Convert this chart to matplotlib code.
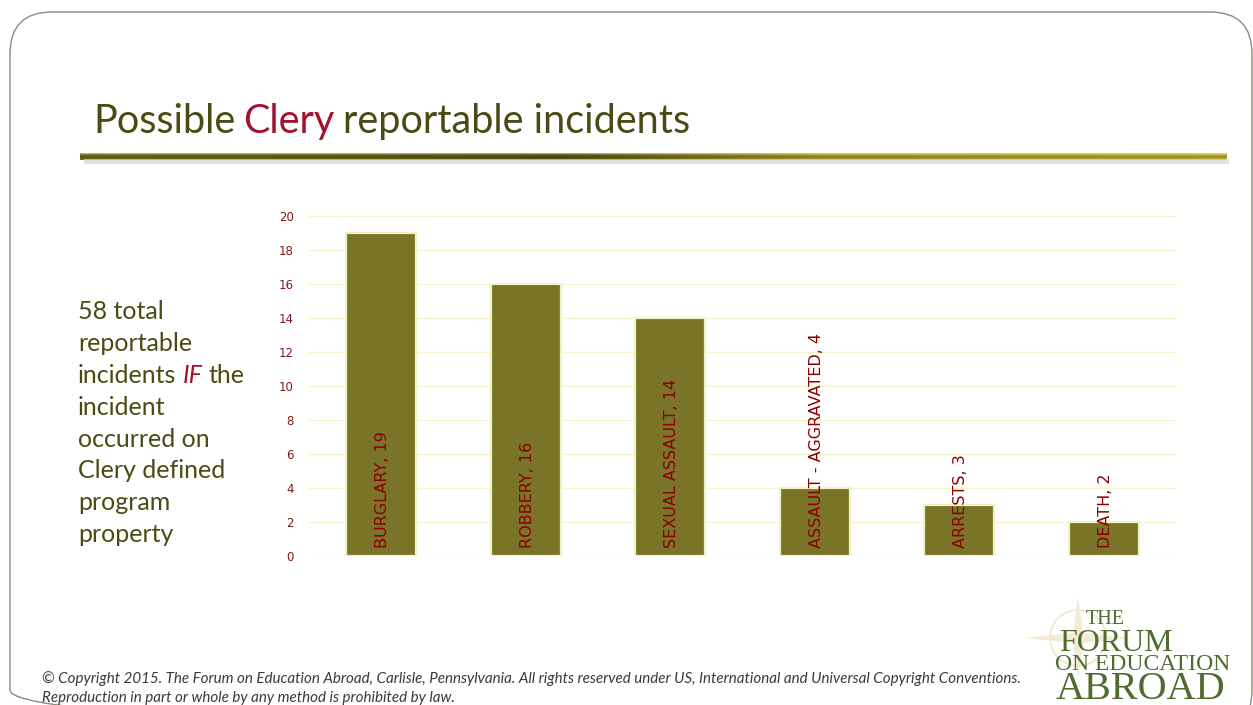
import numpy as np
import matplotlib.pyplot as plt
from matplotlib.patches import FancyBboxPatch, Polygon, Rectangle
from matplotlib.colors import to_rgb

# ---- data ----
categories = ["BURGLARY", "ROBBERY", "SEXUAL ASSAULT", "ASSAULT - AGGRAVATED", "ARRESTS", "DEATH"]
counts = [19, 16, 14, 4, 3, 2]
yticks = [0, 2, 4, 6, 8, 10, 12, 14, 16, 18, 20]

side_lines = ["58 total", "reportable", None, "incident", "occurred on",
              "Clery defined", "program", "property"]
footer_lines = [
    "\u00a9 Copyright 2015. The Forum on Education Abroad, Carlisle, Pennsylvania. "
    "All rights reserved under US, International and Universal Copyright Conventions.",
    "Reproduction in part or whole by any method is prohibited by law.",
]
logo_lines = ["THE", "FORUM", "ON EDUCATION", "ABROAD"]

OLIVE_TXT = "#4A4B14"
RED_TXT = "#A5122E"
BAR = "#7A7428"
BAR_EDGE = "#F2F2C4"
GRID = "#F5F5CC"
TICK_RED = "#7B1A1A"
LABEL_RED = "#8B0000"
LOGO = "#4F6B2D"

W, H = 1253, 705
fig = plt.figure(figsize=(W / 100, H / 100), dpi=100)
fig.patch.set_facecolor("white")

# background axes in pixel coords (origin top-left)
bg = fig.add_axes([0, 0, 1, 1])
bg.axis("off")

# slide border
bg.add_patch(FancyBboxPatch((10, 12), 1242, 720, boxstyle="round,pad=0,rounding_size=42",
                            fill=False, ec="#8C8C7C", lw=1.0))

# title
t1 = bg.text(93, 133, "Possible", family="Lato", fontsize=28.5, color=OLIVE_TXT, va="baseline")
t2 = bg.annotate("Clery", xy=(1, 0), xycoords=t1, xytext=(6, 0), textcoords="offset points",
                 family="Lato", fontsize=28.5, color=RED_TXT, va="bottom")
bg.annotate("reportable incidents", xy=(1, 0), xycoords=t2, xytext=(6, 0), textcoords="offset points",
            family="Lato", fontsize=28.5, color=OLIVE_TXT, va="bottom")

# title rule: gradient bar + shadow
bg.add_patch(Rectangle((84, 159), 1145, 5, color="#d5d5d0", alpha=0.7, lw=0))
stops_x = [0.0, 0.15, 0.42, 0.65, 1.0]
stops_c = ["#6E6818", "#6A6414", "#57510F", "#A39A2C", "#B5AA32"]
xs = np.linspace(0, 1, 600)
rgb = np.array([to_rgb(c) for c in stops_c])
row = np.stack([np.interp(xs, stops_x, rgb[:, k]) for k in range(3)], axis=1)
shade = np.array([1.0, 1.1, 0.9, 0.82, 0.95, 1.1])
img = np.clip(row[None, :, :] * shade[:, None, None], 0, 1)
img[0] = 0.45 * img[0] + 0.55 * np.array(to_rgb("#F4F0B0"))
bg.imshow(img, extent=(80, 1227, 160, 153), aspect="auto", interpolation="bilinear")
bg.set_xlim(0, W)
bg.set_ylim(H, 0)

# side text
y0 = 319
for i, line in enumerate(side_lines):
    yy = y0 + i * 31.9
    if line is None:
        a = bg.text(78, yy, "incidents", family="Lato", fontsize=18, color=OLIVE_TXT, va="baseline")
        b = bg.annotate("IF", xy=(1, 0), xycoords=a, xytext=(4.5, 0), textcoords="offset points",
                        family="Lato", style="italic", fontsize=18, color=RED_TXT, va="bottom")
        bg.annotate("the", xy=(1, 0), xycoords=b, xytext=(4.5, 0), textcoords="offset points",
                    family="Lato", fontsize=18, color=OLIVE_TXT, va="bottom")
    else:
        bg.text(78, yy, line, family="Lato", fontsize=18, color=OLIVE_TXT, va="baseline")

# footer
for i, line in enumerate(footer_lines):
    bg.text(42, 683 + i * 19, line, family="Lato", style="italic", fontsize=10.9,
            color="#3A3A3A", va="baseline")

# logo compass (faint)
cx, cy = 1078, 638
star = [(cx, cy - 42), (cx + 5, cy - 5), (cx + 55, cy), (cx + 5, cy + 5),
        (cx, cy + 42), (cx - 5, cy + 5), (cx - 55, cy), (cx - 5, cy - 5)]
bg.add_patch(Polygon(star, closed=True, fc="#EFE8CC", ec="none", alpha=0.8))
bg.add_patch(plt.Circle((cx, cy), 28, fill=False, ec="#EFE8CC", lw=1.2))

# logo text
bg.text(1086, 624, logo_lines[0], family="Liberation Serif", fontsize=14.5, color=LOGO, va="baseline")
bg.text(1059, 651, logo_lines[1], family="Liberation Serif", fontsize=23, color=LOGO, va="baseline")
bg.text(1055, 670, logo_lines[2], family="Liberation Serif", fontsize=17, color=LOGO, va="baseline")
bg.text(1056, 699, logo_lines[3], family="Liberation Serif", fontsize=29, color=LOGO, va="baseline")

# ---- chart ----
ax = fig.add_axes([309 / W, (H - 556) / H, 867 / W, 340 / H])
ax.set_facecolor("none")
x = np.arange(len(categories))
ax.bar(x, counts, width=0.485, color=BAR, edgecolor=BAR_EDGE, linewidth=1.6, zorder=3)
for i, (cat, v) in enumerate(zip(categories, counts)):
    ax.text(i + 0.012, 0.45, f"{cat}, {v}", rotation=90, ha="center", va="bottom",
            family="DejaVu Sans", fontsize=11.5, color=LABEL_RED, zorder=4)

ax.set_xlim(-0.5, len(categories) - 0.5)
ax.set_ylim(0, 20)
ax.set_yticks(yticks)
ax.set_xticks([])
ax.yaxis.grid(True, color=GRID, lw=1.0, zorder=0)
ax.set_axisbelow(True)
for s in ax.spines.values():
    s.set_visible(False)
ax.tick_params(axis="y", length=0, pad=11, labelsize=8.5, labelcolor=TICK_RED)

fig.savefig("out.png", dpi=100, facecolor="white")
